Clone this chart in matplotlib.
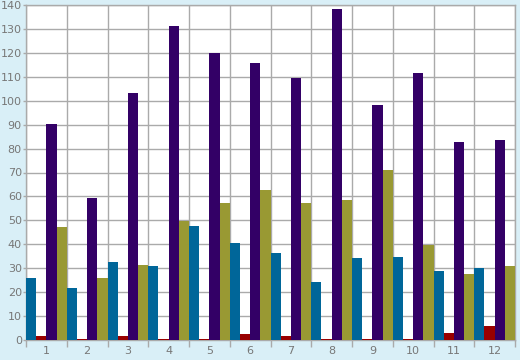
import numpy as np
import matplotlib
matplotlib.use("Agg")
import matplotlib.pyplot as plt

months = ["1", "2", "3", "4", "5", "6", "7", "8", "9", "10", "11", "12"]
blue = [26, 21.7, 32.6, 30.9, 47.6, 40.5, 36.4, 24.2, 34.3, 34.7, 28.8, 30.1]
red = [1.7, 0.4, 1.7, 0.4, 0.3, 2.5, 1.7, 0.3, 0.4, 0.6, 2.9, 5.9]
purple = [90.3, 59.3, 103.2, 131.2, 119.9, 115.8, 109.5, 138.3, 98.2, 111.6, 82.7, 83.6]
olive = [47.2, 26, 31.3, 49.7, 57.2, 62.7, 57.2, 58.5, 71.0, 39.7, 27.6, 30.9]

series = [blue, red, purple, olive]
colors = ["#006699", "#990000", "#330066", "#999933"]
text_c = "#777777"
grid_c = "#aaaaaa"

fig = plt.figure(figsize=(5.2, 3.6), dpi=100, facecolor="#d9eff7")
ax = fig.add_axes([26 / 520, 1 - 340 / 360, 489 / 520, 335 / 360])
ax.set_facecolor("white")

n = len(months)
w = 0.25
x = np.arange(n)
for i, (vals, c) in enumerate(zip(series, colors)):
    ax.bar(x + i * w, vals, width=w, align="edge", color=c, zorder=3)

ax.set_xlim(0, n)
ax.set_ylim(0, 140)
ax.set_axisbelow(True)

ax.set_yticks(np.arange(0, 141, 10))
ax.set_xticks(np.arange(0, n + 1))
ax.set_xticklabels([])
ax.set_xticks(x + 0.5, minor=True)
ax.set_xticklabels(months, minor=True)
ax.tick_params(axis="x", which="major", length=5, color=grid_c, width=1)
ax.tick_params(axis="x", which="minor", length=0, pad=4, labelsize=8, labelcolor=text_c)
ax.tick_params(axis="y", length=2, color=grid_c, width=1, pad=1,
               labelsize=8, labelcolor=text_c)

ax.grid(True, which="major", color=grid_c, linewidth=1.0)
for s in ax.spines.values():
    s.set_color(grid_c)
    s.set_linewidth(1.0)

fig.savefig("out.png", dpi=100, facecolor=fig.get_facecolor())
